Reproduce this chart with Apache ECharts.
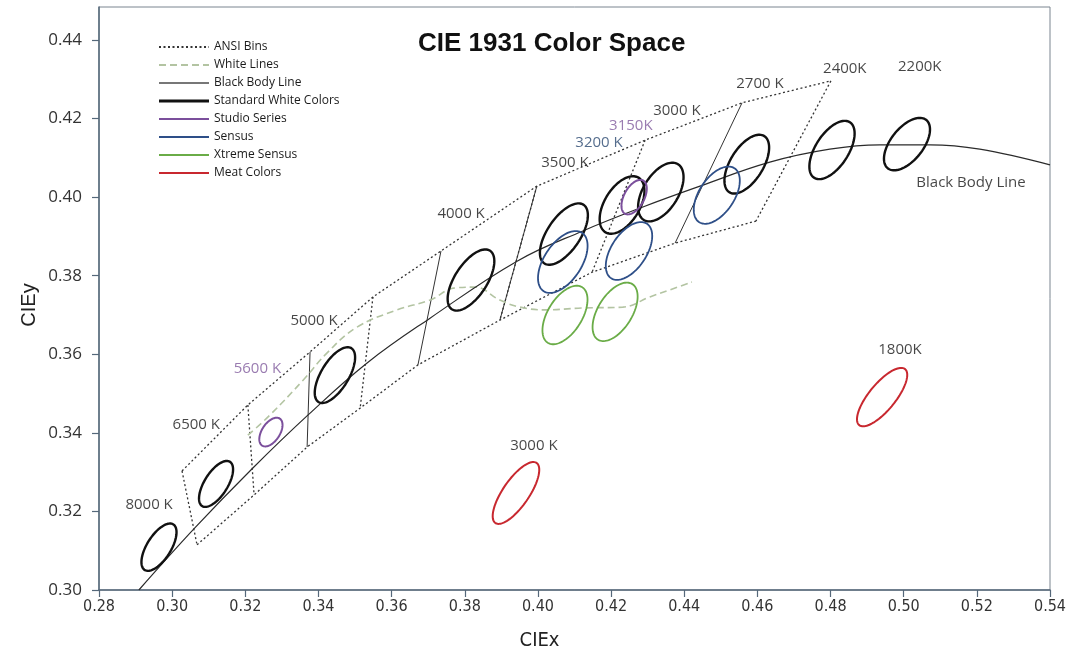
<!DOCTYPE html>
<html>
<head>
<meta charset="utf-8">
<title>CIE 1931 Color Space</title>
<script src="https://cdn.jsdelivr.net/npm/echarts@6/dist/echarts.min.js"></script>
<style>
  html, body { margin: 0; padding: 0; background: #fff; }
  #chart { width: 1080px; height: 656px; }
</style>
</head>
<body>
<div id="chart"></div>
<script>
// black body (planckian) line [CIEx, CIEy]
var blackBodyLine = [
  [0.2909, 0.3000], [0.3062, 0.3158], [0.3218, 0.3308], [0.3371, 0.3445],
  [0.3533, 0.3578], [0.3705, 0.3692], [0.3943, 0.3837], [0.4123, 0.3914],
  [0.4287, 0.3975], [0.4443, 0.4028], [0.4634, 0.4089], [0.4798, 0.4122],
  [0.4935, 0.4133], [0.5072, 0.4133], [0.5208, 0.4122], [0.5400, 0.4082]
];

// dashed "white line"
var whiteLine = [
  [0.3207, 0.3394], [0.3267, 0.3445], [0.3358, 0.3534], [0.3423, 0.3603],
  [0.3505, 0.3669], [0.3615, 0.3713], [0.3705, 0.3738], [0.3773, 0.3769],
  [0.3828, 0.3771], [0.3896, 0.3738], [0.3951, 0.3720], [0.4019, 0.3713],
  [0.4123, 0.3718], [0.4232, 0.3720], [0.4306, 0.3746], [0.4361, 0.3764],
  [0.4421, 0.3784]
];

// ANSI bin corners, 6500K .. 2700K (upper and lower edge)
var ansiUpper = [
  [0.3027, 0.3303], [0.3207, 0.3471], [0.3377, 0.3606], [0.3549, 0.3746],
  [0.3735, 0.3863], [0.3997, 0.4028], [0.4293, 0.4145], [0.4558, 0.4240],
  [0.4801, 0.4296]
];
var ansiLower = [
  [0.3068, 0.3115], [0.3224, 0.3242], [0.3369, 0.3364], [0.3514, 0.3463],
  [0.3672, 0.3573], [0.3896, 0.3687], [0.4148, 0.3809], [0.4375, 0.3883],
  [0.4596, 0.3939]
];
var ansiDottedDividers = [0, 1, 3, 5, 6, 8];
var ansiSolidDividers = [2, 4, 5, 7];

// ellipses: [centre x, centre y, semi-major, semi-minor, tilt in degrees]
var standardWhite = [
  [0.2964, 0.3109, 0.0070, 0.0032, 55],
  [0.3120, 0.3270, 0.0068, 0.0031, 55],
  [0.3445, 0.3547, 0.0082, 0.0037, 56],
  [0.3817, 0.3789, 0.0091, 0.0043, 54],
  [0.4071, 0.3906, 0.0092, 0.0044, 53],
  [0.4230, 0.3980, 0.0083, 0.0047, 55],
  [0.4336, 0.4013, 0.0085, 0.0047, 55],
  [0.4571, 0.4084, 0.0086, 0.0044, 55],
  [0.4804, 0.4120, 0.0086, 0.0044, 54],
  [0.5009, 0.4135, 0.0081, 0.0043, 48]
];
var studioSeries = [
  [0.3270, 0.3402, 0.0042, 0.0024, 53],
  [0.4263, 0.4000, 0.0049, 0.0027, 58]
];
var sensus = [
  [0.4068, 0.3835, 0.0091, 0.0050, 53],
  [0.4249, 0.3863, 0.0085, 0.0047, 53],
  [0.4489, 0.4005, 0.0084, 0.0047, 53]
];
var xtremeSensus = [
  [0.4074, 0.3700, 0.0085, 0.0046, 55],
  [0.4211, 0.3708, 0.0085, 0.0046, 55]
];
var meatColors = [
  [0.3940, 0.3247, 0.0095, 0.0035, 53],
  [0.4941, 0.3491, 0.0095, 0.0035, 48]
];

// text labels [text, x, y]
var cctLabels = [
  ['8000 K', 0.2937, 0.3216], ['6500 K', 0.3066, 0.3420], ['5000 K', 0.3388, 0.3685],
  ['4000 K', 0.3790, 0.3957], ['3500 K', 0.4074, 0.4087], ['3000 K', 0.4380, 0.4219],
  ['2700 K', 0.4607, 0.4288], ['2400K', 0.4839, 0.4326], ['2200K', 0.5044, 0.4331],
  ['Black Body Line', 0.5184, 0.4036], ['1800K', 0.4990, 0.3611], ['3000 K', 0.3989, 0.3367]
];
var studioLabels = [['5600 K', 0.3233, 0.3562], ['3150K', 0.4254, 0.4181]];
var sensusLabels = [['3200 K', 0.4167, 0.4138]];

var AXIS_COLOR = '#55687a';
var LABEL_FONT = 'Open Sans';
var NARROW_FONT = "'Liberation Sans Narrow', 'DejaVu Sans Condensed', sans-serif";

function lineSeries(name, data, style, smooth) {
  return {
    name: name, type: 'line', data: data, color: style.color,
    showSymbol: false, symbol: 'none',
    smooth: smooth || false, lineStyle: style, silent: true, z: 2
  };
}

function ellipseSeries(name, data, color, width) {
  return {
    name: name, type: 'custom', data: data, color: color, silent: true, z: 4,
    encode: { x: 0, y: 1 },
    renderItem: function (params, api) {
      var cx = api.value(0), cy = api.value(1);
      var a = api.value(2), b = api.value(3);
      var ang = api.value(4) * Math.PI / 180;
      var pts = [];
      for (var i = 0; i < 96; i++) {
        var t = i / 96 * Math.PI * 2;
        pts.push(api.coord([
          cx + a * Math.cos(t) * Math.cos(ang) - b * Math.sin(t) * Math.sin(ang),
          cy + a * Math.cos(t) * Math.sin(ang) + b * Math.sin(t) * Math.cos(ang)
        ]));
      }
      return {
        type: 'polygon',
        shape: { points: pts },
        style: { fill: 'none', stroke: color, lineWidth: width }
      };
    }
  };
}

function labelSeries(list, color) {
  return {
    type: 'scatter', symbolSize: 0, silent: true, z: 6,
    data: list.map(function (d) { return { name: d[0], value: [d[1], d[2]] }; }),
    label: {
      show: true, position: 'inside', formatter: '{b}',
      fontFamily: LABEL_FONT, fontSize: 15, color: color
    }
  };
}

var dotted = { color: '#333', width: 1.3, type: [2, 2.5] };
var series = [];
series.push(lineSeries('ANSI Bins', ansiUpper, dotted));
series.push(lineSeries('ANSI Bins', ansiLower, dotted));
ansiDottedDividers.forEach(function (i) {
  series.push(lineSeries('ANSI Bins', [ansiUpper[i], ansiLower[i]], dotted));
});
ansiSolidDividers.forEach(function (i) {
  series.push(lineSeries('Bin Dividers', [ansiUpper[i], ansiLower[i]], { color: '#333', width: 1 }));
});
series.push(lineSeries('White Lines', whiteLine, { color: '#b3c4a2', width: 1.6, type: [7, 4] }, 0.4));
series.push(lineSeries('Black Body Line', blackBodyLine, { color: '#2b2b2b', width: 1.2 }, 0.4));
series.push(ellipseSeries('Standard White Colors', standardWhite, '#111111', 2.4));
series.push(ellipseSeries('Studio Series', studioSeries, '#7b4f9c', 2));
series.push(ellipseSeries('Sensus', sensus, '#2e4f88', 1.8));
series.push(ellipseSeries('Xtreme Sensus', xtremeSensus, '#6aac47', 1.8));
series.push(ellipseSeries('Meat Colors', meatColors, '#c8282f', 2));
series.push(labelSeries(cctLabels, '#161616'));
series.push(labelSeries(studioLabels, '#7f5a9c'));
series.push(labelSeries(sensusLabels, '#2a4870'));

var noSymbol = { opacity: 0 };
var chart = echarts.init(document.getElementById('chart'));
chart.setOption({
  animation: false,
  backgroundColor: '#fff',
  title: {
    text: 'CIE 1931 Color Space',
    left: 413, top: 26,
    textStyle: { fontFamily: 'Liberation Sans', fontWeight: 'bold', fontSize: 26, color: '#111' }
  },
  legend: {
    orient: 'vertical', left: 153, top: 36,
    itemWidth: 50, itemHeight: 14, itemGap: 6,
    symbolKeepAspect: true, selectedMode: false,
    textStyle: { fontFamily: LABEL_FONT, fontSize: 12, color: '#1a1a1a' },
    data: [
      { name: 'ANSI Bins', itemStyle: noSymbol },
      { name: 'White Lines', itemStyle: noSymbol },
      { name: 'Black Body Line', itemStyle: noSymbol, lineStyle: { color: '#777', width: 2 } },
      { name: 'Standard White Colors', icon: 'path://M0,0H50V3H0Z' },
      { name: 'Studio Series', icon: 'path://M0,0H50V2.2H0Z' },
      { name: 'Sensus', icon: 'path://M0,0H50V2.2H0Z' },
      { name: 'Xtreme Sensus', icon: 'path://M0,0H50V2.2H0Z' },
      { name: 'Meat Colors', icon: 'path://M0,0H50V2.2H0Z' }
    ]
  },
  grid: {
    left: 99, right: 30, top: 7, bottom: 66,
    outerBoundsMode: 'none',
    show: true, borderColor: '#7a8590', borderWidth: 1
  },
  xAxis: {
    type: 'value', min: 0.28, max: 0.54, interval: 0.02,
    name: 'CIEx', nameLocation: 'middle', nameGap: 41, nameMoveOverlap: false,
    nameTextStyle: {
      fontFamily: NARROW_FONT, fontSize: 20, color: '#222', padding: [0, 70, 0, 0]
    },
    axisLine: { show: true, lineStyle: { color: AXIS_COLOR, width: 1.5 } },
    axisTick: { show: true, inside: false, length: 7, lineStyle: { color: AXIS_COLOR, width: 1.2 } },
    splitLine: { show: false },
    axisLabel: {
      margin: 9, fontFamily: NARROW_FONT, fontSize: 16, color: '#333',
      formatter: function (v) { return v.toFixed(2); }
    }
  },
  yAxis: {
    type: 'value', min: 0.30, max: 0.4484, interval: 0.02,
    name: 'CIEy', nameLocation: 'middle', nameGap: 60, nameMoveOverlap: false,
    nameTextStyle: {
      fontFamily: 'Liberation Sans', fontSize: 20, color: '#222', padding: [0, 13, 0, 0]
    },
    axisLine: { show: true, lineStyle: { color: AXIS_COLOR, width: 1.5 } },
    axisTick: { show: true, inside: false, length: 7, lineStyle: { color: AXIS_COLOR, width: 1.2 } },
    splitLine: { show: false },
    axisLabel: {
      margin: 17, showMaxLabel: false,
      fontFamily: LABEL_FONT, fontSize: 17, color: '#333',
      formatter: function (v) { return v.toFixed(2); }
    }
  },
  series: series
});
</script>
</body>
</html>
